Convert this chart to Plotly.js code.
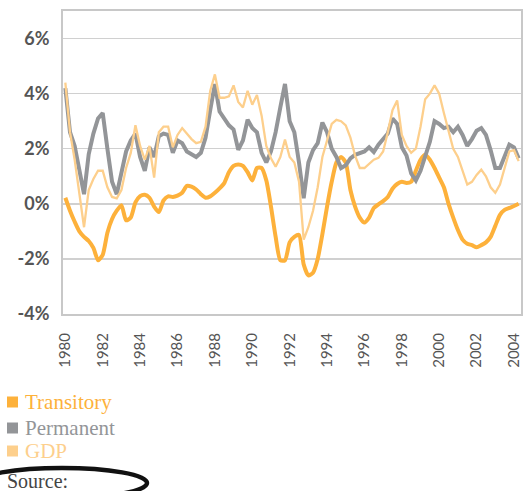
<!DOCTYPE html>
<html>
<head>
<meta charset="utf-8">
<script src="https://cdn.plot.ly/plotly-3.0.1.min.js"></script>
<style>html,body{margin:0;padding:0;background:#fff;}#chart{width:527px;height:491px;}</style>
</head>
<body>
<div id="chart"></div>
<script>
// Quarterly observations, 1980Q1 .. 2004Q2
const startYear = 1980;
const seriesNames = ["Transitory", "Permanent", "GDP"];
const transitory = [
  0.22, -0.25, -0.65, -1.0, -1.2, -1.35, -1.6, -2.05, -1.85, -1.05,
  -0.55, -0.25, -0.05, -0.6, -0.5, 0.05, 0.28, 0.33, 0.22, -0.1,
  -0.3, 0.12, 0.27, 0.25, 0.3, 0.4, 0.65, 0.62, 0.52, 0.35,
  0.22, 0.27, 0.4, 0.56, 0.75, 1.15, 1.38, 1.43, 1.38, 1.15,
  0.85, 1.3, 1.3, 0.85, -0.1, -1.2, -2.05, -2.05, -1.4, -1.2,
  -1.13, -2.2, -2.6, -2.5, -2.0, -1.1, -0.1, 0.8, 1.5, 1.7,
  1.5, 0.5, -0.1, -0.5, -0.68, -0.5, -0.15, -0.02, 0.1, 0.25,
  0.55, 0.72, 0.8, 0.76, 0.8, 1.2, 1.6, 1.78, 1.6, 1.3,
  0.95, 0.6, 0.0, -0.5, -0.95, -1.3, -1.45, -1.5, -1.58, -1.5,
  -1.4, -1.2, -0.8, -0.4, -0.22, -0.15, -0.08, 0.0
];
const permanent = [
  4.2, 2.6, 2.1, 1.2, 0.35, 1.8, 2.55, 3.1, 3.3, 2.0,
  0.8, 0.35, 1.1, 1.9, 2.3, 2.55, 1.7, 1.2, 2.05, 1.7,
  2.45, 2.55, 2.5, 1.85, 2.3, 2.2, 1.9, 1.8, 1.7, 1.85,
  2.4, 3.4, 4.35, 3.35, 3.1, 2.85, 2.7, 1.96, 2.3, 3.05,
  2.75, 2.6, 1.85, 1.5, 1.9, 2.6, 3.5, 4.35, 3.0, 2.6,
  1.5, 0.2, 1.5, 1.95, 2.2, 2.95, 2.6, 2.0, 1.7, 1.3,
  1.4, 1.65, 1.78, 1.85, 1.9, 2.05, 1.88, 2.15, 2.35, 2.55,
  3.1, 2.9, 2.05, 1.75, 1.1, 0.85, 1.2, 1.7, 2.25, 3.0,
  2.9, 2.75, 2.8, 2.6, 2.8, 2.5, 2.1, 2.35, 2.65, 2.75,
  2.5, 1.95, 1.3, 1.3, 1.7, 2.15, 2.05, 1.65
];
const gdp = [
  4.4, 2.6, 1.6, 0.4, -0.85, 0.5, 0.9, 1.2, 1.2, 0.6,
  0.25, 0.2, 0.5, 1.3, 1.85, 2.85, 2.1, 1.6, 2.1, 0.95,
  2.6, 2.8, 2.8, 2.05, 2.5, 2.75, 2.55, 2.35, 2.2, 2.25,
  2.8, 4.1, 4.7, 3.85, 3.85, 3.9, 4.3, 3.7, 3.5, 4.1,
  3.6, 3.95, 3.2, 2.1, 1.65, 1.35, 1.7, 2.33, 1.7, 1.5,
  0.8, -1.3, -0.85, -0.25, 0.6, 1.7, 2.3, 2.9, 3.05, 3.0,
  2.85, 2.4, 1.75, 1.3, 1.3, 1.45, 1.6, 1.67, 1.9, 2.6,
  3.4, 3.75, 2.5, 2.1, 1.85, 2.0, 2.8, 3.8, 4.0, 4.3,
  4.0, 3.3, 2.6, 2.0, 1.7, 1.2, 0.7, 0.8, 1.05, 1.24,
  1.0, 0.6, 0.4, 0.7, 1.35, 1.9, 1.95, 1.55
];
const xTickYears = [1980,1982,1984,1986,1988,1990,1992,1994,1996,1998,2000,2002,2004];
const yTickVals = [-4,-2,0,2,4,6];
const yTickText = ["-4%","-2%","0%","2%","4%","6%"];
const colors = {Transitory:"#FDB13B", Permanent:"#939598", GDP:"#FDCF8C"};

const x = transitory.map((_, i) => startYear + i / 4);

const traces = [
  {x: x, y: transitory, type: "scatter", mode: "lines", name: seriesNames[0],
   line: {color: colors.Transitory, width: 4, shape: "spline", smoothing: 0.6}, hoverinfo: "skip"},
  {x: x, y: permanent, type: "scatter", mode: "lines", name: seriesNames[1],
   line: {color: colors.Permanent, width: 4}, hoverinfo: "skip"},
  {x: x, y: gdp, type: "scatter", mode: "lines", name: seriesNames[2],
   line: {color: colors.GDP, width: 2.3}, hoverinfo: "skip"}
];

// helper: pixel -> paper coordinates for the custom legend / note
const L = 63, T = 11, W = 458, H = 303;
const px = v => (v - L) / W;
const py = v => (T + H - v) / H;

const legendRows = [
  {name: seriesNames[0], color: colors.Transitory, cy: 402},
  {name: seriesNames[1], color: colors.Permanent, cy: 428},
  {name: seriesNames[2], color: colors.GDP, cy: 451}
];

const shapes = [];
const annotations = [];
legendRows.forEach(r => {
  shapes.push({type: "rect", xref: "paper", yref: "paper",
    x0: px(7), x1: px(18), y0: py(r.cy + 5.5), y1: py(r.cy - 5.5),
    fillcolor: r.color, line: {width: 0}});
  annotations.push({xref: "paper", yref: "paper", x: px(23), y: py(r.cy),
    xanchor: "left", yanchor: "middle", showarrow: false, text: r.name,
    font: {family: "Liberation Serif, serif", size: 21, color: r.color}});
});
annotations.push({xref: "paper", yref: "paper", x: px(5), y: py(481),
  xanchor: "left", yanchor: "middle", showarrow: false, text: "Source:",
  font: {family: "Liberation Serif, serif", size: 20, color: "#444"}});
shapes.push({type: "circle", xref: "paper", yref: "paper",
  x0: px(-23), x1: px(147), y0: py(498), y1: py(468),
  line: {color: "#111", width: 4.5}});

const layout = {
  width: 527, height: 491,
  margin: {l: L, r: 527 - L - W, t: T, b: 491 - T - H, pad: 0},
  paper_bgcolor: "#fff", plot_bgcolor: "#fff",
  showlegend: false,
  xaxis: {
    type: "linear", range: [1979.875, 2004.375],
    tickvals: xTickYears, ticktext: xTickYears.map(String),
    tickangle: -90, ticks: "", showgrid: false, zeroline: false,
    showline: true, mirror: true, linecolor: "#c8c8c8", linewidth: 2,
    tickfont: {family: "Lato, sans-serif", size: 15, color: "#555"},
    ticklabelstandoff: 11
  },
  yaxis: {
    range: [-4, 7], tickvals: yTickVals, ticktext: yTickText,
    ticks: "", showgrid: true, gridcolor: "#d0d0d0", gridwidth: 1.5,
    zeroline: false,
    showline: true, mirror: true, linecolor: "#c8c8c8", linewidth: 2,
    tickfont: {family: "Lato, sans-serif", size: 18, color: "#555", weight: 700},
    ticklabelstandoff: 8
  },
  shapes: shapes,
  annotations: annotations
};

Plotly.newPlot("chart", traces, layout, {staticPlot: true, displayModeBar: false});
</script>
</body>
</html>
